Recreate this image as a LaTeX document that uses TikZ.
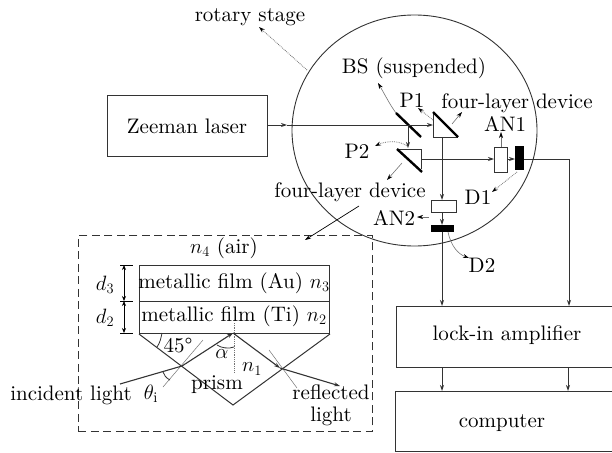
\documentclass[tikz,border=0pt]{standalone}
\usepackage{fontspec}
\setmainfont{lmroman10-regular.otf}
\usetikzlibrary{arrows.meta}
\definecolor{ink}{gray}{0.2}
\definecolor{lead}{gray}{0.45}
\tikzset{
  x=1pt,y=-1pt,
  lbl/.style={inner sep=0pt,text=black,font=\fontsize{21}{23}\selectfont},
  box/.style={draw=ink,line width=1pt,fill=none,inner sep=0pt,anchor=north west},
  beam/.style={draw=ink,line width=0.9pt},
  arr/.style={beam,-{Stealth[length=6pt,width=4pt]}},
  leader/.style={draw=lead,line width=0.8pt,densely dotted,-{Stealth[length=6pt,width=4pt,color=black]}},
  leadsolid/.style={draw=lead,line width=0.6pt,-{Stealth[length=6pt,width=4pt,color=black]}},
  optic/.style={draw=black,line width=2.4pt},
  thinoptic/.style={draw=ink,line width=0.8pt},
  det/.style={fill=black,draw=none,inner sep=0pt,anchor=north west},
  normal/.style={draw=lead,line width=0.5pt},
  dim/.style={draw=black,line width=0.7pt,{Stealth[length=5pt,width=4pt]}-{Stealth[length=5pt,width=4pt]}},
  tick/.style={draw=black,line width=0.7pt},
  pt/.style={inner sep=0pt,minimum size=0pt}
}
\begin{document}
\begin{tikzpicture}
\useasboundingbox (0,0) rectangle (612,452);
% outer elements
\draw[ink,line width=0.9pt] (414.5,130.5) ellipse [x radius=122.5,y radius=115.5];
\node[box,minimum width=160pt,minimum height=61pt] (laser) at (107,95) {};
\node[lbl] (laserT) at (187,126) {Zeeman laser};
% lock-in and computer, both run off the right edge
\coordinate (liNW) at (396,306); \coordinate (liSW) at (396,367);
\coordinate (liNE) at (612,306); \coordinate (liSE) at (612,367);
\draw[ink,line width=1pt] (liNE) -- (liNW) -- (liSW) -- (liSE);
\coordinate (coNW) at (395,391); \coordinate (coSW) at (395,451);
\coordinate (coNE) at (612,391); \coordinate (coSE) at (612,451);
\draw[ink,line width=1pt] (coNE) -- (coNW) -- (coSW) -- (coSE);
\node[lbl] (lockT) at (507,335) {lock-in amplifier};
\node[lbl] (compT) at (502,423) {computer};
% optics
\coordinate (bsA) at (396,113); \coordinate (bsB) at (421,137);
\draw[optic] (bsA) -- (bsB);
\coordinate (p1A) at (433,112); \coordinate (p1B) at (458,137); \coordinate (p1C) at (433,137); \coordinate (p1D) at (433,113);
\draw[thinoptic] (p1D) -- (p1C) -- (p1B);
\draw[optic] (p1A) -- (p1B);
\coordinate (p2A) at (397,149); \coordinate (p2B) at (422,172); \coordinate (p2C) at (421,149);
\draw[thinoptic] (p2A) -- (p2C) -- (421,169);
\draw[optic] (p2A) -- (p2B);
\node[box,minimum width=13pt,minimum height=25pt] (an1) at (494,147) {};
\node[box,minimum width=25pt,minimum height=12pt] (an2) at (431,200) {};
\node[det,minimum width=9pt,minimum height=24pt] (d1) at (515,146) {};
\node[det,minimum width=23pt,minimum height=7pt] (d2) at (431,225) {};
% beams
\coordinate (bsHit) at (408,125);
\coordinate (p1Hit) at (433,125);
\coordinate (mid) at (287,125);
\draw[arr] (laser.east |- bsHit) -- (mid);
\draw[arr] (mid) -- (p1Hit);
\coordinate (p2Top) at (408,148);
\draw[arr] (bsHit) -- (p2Top);
\coordinate (p1Out) at (442,137);
\draw[arr] (p1Out) -- (p1Out |- an2.north);
\coordinate (p2Out) at (421,159);
\draw[arr] (p2Out) -- (p2Out -| an1.west);
\draw[arr] (an1.east |- p2Out) -- (p2Out -| d1.west);
\draw[arr] (p1Out |- an2.south) -- (p1Out |- d2.north);
\coordinate (corner) at (569,159);
\coordinate (liR) at (569,306);
\draw[arr] (d1.east |- p2Out) -- (corner) -- (liR);
\coordinate (liL) at (442,306);
\draw[arr] (442,232) -- (liL);
\draw[arr] (442,367) -- (442,391);
\draw[arr] (568,367) -- (568,391);
% dashed inset
\node[draw=ink,line width=0.8pt,dash pattern=on 8pt off 4.5pt,inner sep=0pt,anchor=north west,minimum width=294pt,minimum height=196pt] (inset) at (78,235) {};
\node[box,minimum width=190pt,minimum height=36pt] (au) at (139,265) {};
\node[box,minimum width=190pt,minimum height=32pt] (ti) at (139,301) {};
\coordinate (prB) at (233,405);
\draw[ink,line width=1pt] (ti.south west) -- (prB) -- (ti.south east);
% dimensions
\coordinate (dT) at (124,265); \coordinate (dM) at (124,301); \coordinate (dB) at (124,333);
\foreach \c in {dT,dM,dB} \draw[tick] ([xshift=-4pt]\c) -- ([xshift=9pt]\c);
\draw[dim] (dT) -- (dM);
\draw[dim] (dM) -- (dB);
% rays
\coordinate (inS) at (120,384); \coordinate (inH) at (182,366);
\coordinate (top) at (233,333); \coordinate (outH) at (280,368); \coordinate (outE) at (340,386);
\draw[normal] (203,340) -- (163,387);
\draw[normal] (269,350) -- (297,388);
\draw[lead,line width=0.8pt,densely dotted] (234,323) -- (234,372);
\draw[beam,line width=1.1pt] (inS) -- (inH);
\draw[arr,line width=1.1pt] (inH) -- (top);
\draw[arr,line width=1.1pt] (top) -- (outH);
\draw[arr,line width=1.1pt] (outH) -- (outE);
% angle arcs
\draw[ink,line width=0.8pt] (162,333) .. controls (161,338) and (160,343) .. (157,347);
\draw[ink,line width=0.8pt] (217,345) .. controls (221,348) and (229,349) .. (234,347);
\draw[ink,line width=0.8pt] (163,372) .. controls (164,375) and (166,378) .. (170,380);
% leaders
\draw[leadsolid] (bsA) .. controls (390,105) and (384,93) .. (378,83);
\draw[leader] (433,120) -- (418,108);
\draw[leadsolid] (452,124) -- (462,112);
\draw[leadsolid] (501,147) -- (501,132);
\draw[leader] (408,147) .. controls (402,141) and (388,140) .. (375,146);
\draw[leadsolid] (402,163) -- (387,180);
\draw[leader] (517,172) -- (492,192);
\draw[leadsolid] (429,217) -- (417,217);
\draw[leadsolid] (448,232) .. controls (451,246) and (458,254) .. (469,258);
\draw[draw=black,line width=0.7pt,-{Stealth[length=6pt,width=4pt]}] (359,206) -- (305,240);
\draw[leader] (307,70) -- (259,27);
% labels
\node[lbl] (rot) at (250,17) {rotary stage};
\node[lbl] (bs) at (414,68) {BS (suspended)};
\node[lbl] (P1) at (412,100) {P1};
\node[lbl] (fl1) at (517,103) {four-layer device};
\node[lbl] (AN1) at (505,124) {AN1};
\node[lbl] (P2) at (357,151) {P2};
\node[lbl] (fl2) at (350,192) {four-layer device};
\node[lbl] (D1) at (478,197) {D1};
\node[lbl] (AN2) at (394,218) {AN2};
\node[lbl] (D2) at (482,265) {D2};
\node[lbl] (n4) at (224,248) {$n_4$ (air)};
\node[lbl] (auT) at (234,283) {metallic film (Au) $n_3$};
\node[lbl] (tiT) at (234,316) {metallic film (Ti) $n_2$};
\node[lbl] (d3) at (105,285) {$d_3$};
\node[lbl] (d2t) at (105,318) {$d_2$};
\node[lbl] (deg) at (178,346) {45°};
\node[lbl] (alpha) at (222,354) {$\alpha$};
\node[lbl] (n1) at (252,369) {$n_1$};
\node[lbl] (prism) at (217,385) {prism};
\node[lbl] (inc) at (71,395) {incident light};
\node[lbl] (theta) at (151,394) {$\theta_{\mathrm{i}}$};
\node[lbl] (refl) at (331,392) {reflected};
\node[lbl] (refl2) at (331,416) {light};
\end{tikzpicture}
\end{document}
